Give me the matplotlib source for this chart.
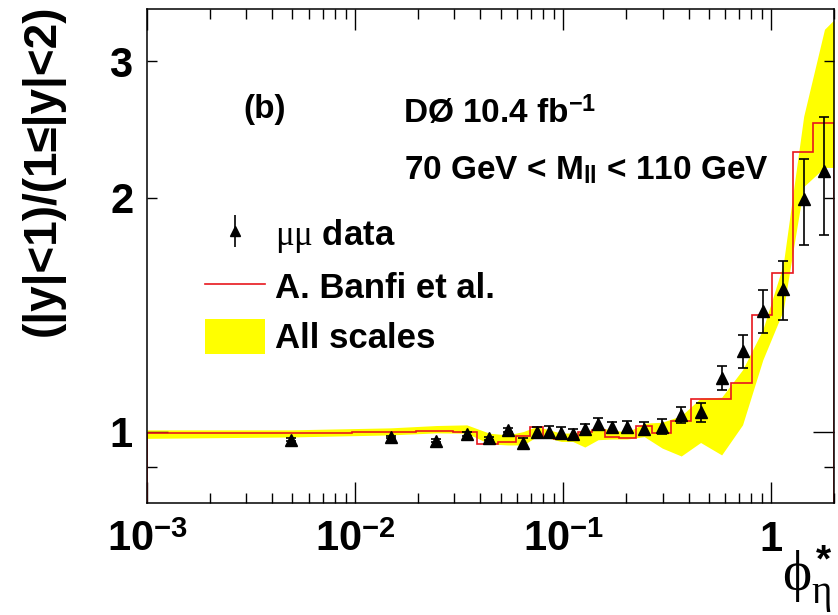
import matplotlib
matplotlib.use("Agg")
import matplotlib.pyplot as plt
from matplotlib.lines import Line2D
from matplotlib.patches import Patch
from matplotlib.ticker import FixedLocator, FixedFormatter, NullFormatter
from matplotlib.legend_handler import HandlerErrorbar

plt.rcParams['font.family'] = ['Liberation Sans', 'DejaVu Sans']
plt.rcParams['font.weight'] = 'normal'
plt.rcParams['mathtext.fontset'] = 'custom'
plt.rcParams['mathtext.rm'] = 'Liberation Sans:bold'
plt.rcParams['mathtext.bf'] = 'Liberation Sans:bold'
plt.rcParams['mathtext.it'] = 'Liberation Serif'

# ---- data ----
phi_data = [0.00491, 0.0148, 0.0246, 0.0344, 0.0442, 0.0541, 0.0643, 0.0745, 0.0857,
            0.0978, 0.111, 0.127, 0.147, 0.172, 0.203, 0.245, 0.299, 0.369, 0.457,
            0.577, 0.727, 0.910, 1.14, 1.43, 1.80]
ratio_data = [0.977, 0.985, 0.974, 0.994, 0.981, 1.006, 0.967, 0.999, 1.001, 0.998,
              0.994, 1.008, 1.024, 1.014, 1.014, 1.010, 1.016, 1.052, 1.060, 1.173,
              1.269, 1.432, 1.527, 1.991, 2.165]
ratio_err = [0.004, 0.004, 0.004, 0.005, 0.005, 0.006, 0.015, 0.015, 0.016, 0.016,
             0.016, 0.017, 0.017, 0.017, 0.018, 0.020, 0.023, 0.025, 0.030, 0.042,
             0.062, 0.090, 0.133, 0.250, 0.375]

banfi_edges = [0.001, 0.0097, 0.0197, 0.0294, 0.0387, 0.0488, 0.0595, 0.0692, 0.080,
               0.0906, 0.106, 0.118, 0.138, 0.159, 0.186, 0.223, 0.267, 0.331, 0.409,
               0.509, 0.641, 0.804, 1.01, 1.27, 1.58, 2.0]
banfi_vals = [0.998, 1.001, 1.004, 1.001, 0.965, 0.970, 0.989, 1.014, 0.984, 0.979,
              0.981, 1.001, 1.006, 0.986, 0.981, 1.018, 0.996, 1.034, 1.102, 1.102,
              1.155, 1.415, 1.601, 2.292, 2.495]

band_phi = [0.001, 0.00491, 0.0148, 0.0246, 0.0344, 0.0442, 0.0541, 0.0643, 0.0745,
            0.0857, 0.0978, 0.111, 0.127, 0.147, 0.172, 0.203, 0.245, 0.299, 0.369,
            0.457, 0.577, 0.727, 0.910, 1.14, 1.43, 1.80, 2.0]
band_hi = [1.006, 1.006, 1.012, 1.019, 1.021, 0.996, 0.991, 1.001, 1.016, 1.006, 0.996,
           0.997, 1.001, 1.013, 1.006, 0.999, 1.026, 1.029, 1.049, 1.105, 1.108, 1.202,
           1.354, 1.641, 2.547, 3.296, 3.39]
band_lo = [0.981, 0.985, 0.991, 0.997, 0.996, 0.965, 0.962, 0.962, 0.986, 0.981, 0.972,
           0.972, 0.956, 0.977, 0.979, 0.979, 0.986, 0.953, 0.931, 0.969, 0.934, 1.021,
           1.238, 1.432, 2.068, 2.189, 2.189]

xmajor = [1e-3, 1e-2, 1e-1, 1.0]
xmajor_labels = [r'$10^{-3}$', r'$10^{-2}$', r'$10^{-1}$', r'$1$']
yminor = [0.9, 2.0, 3.0]
yminor_labels = ['', r'$2$', r'$3$']

# ---- figure ----
fig = plt.figure(figsize=(8.38, 6.15), dpi=100)
ax = fig.add_axes([147/838, 112/615, 687/838, 494/615])

ax.fill_between(band_phi, band_lo, band_hi, color='#ffff00', lw=0, zorder=1)
ax.stairs(banfi_vals, banfi_edges, color='#e8161e', lw=1.2, zorder=2)
ax.errorbar(phi_data, ratio_data, yerr=ratio_err, fmt='^', color='black',
            ms=8.5, elinewidth=1.2, capsize=3.5, capthick=1.2, zorder=3)

ax.set_xscale('log')
ax.set_yscale('log')
ax.set_xlim(1e-3, 2.0)
ax.set_ylim(0.81, 3.5)

ax.xaxis.set_major_locator(FixedLocator(xmajor))
ax.xaxis.set_major_formatter(FixedFormatter(xmajor_labels))
xminor = [m * d for d in xmajor for m in range(2, 10) if m * d <= 2.0]
ax.xaxis.set_minor_locator(FixedLocator(xminor))
ax.xaxis.set_minor_formatter(NullFormatter())

ax.yaxis.set_major_locator(FixedLocator([1.0]))
ax.yaxis.set_major_formatter(FixedFormatter([r'$1$']))
ax.yaxis.set_minor_locator(FixedLocator(yminor))
ax.yaxis.set_minor_formatter(FixedFormatter(yminor_labels))

for s in ax.spines.values():
    s.set_linewidth(1.1)
ax.tick_params(which='both', direction='in', top=True, right=True, width=1.0)
ax.tick_params(which='major', length=15, labelsize=30)
ax.tick_params(which='minor', length=7, labelsize=30)
ax.tick_params(axis='x', which='both', pad=12)
ax.tick_params(axis='y', which='both', pad=10)

# y label
fig.text(43/838, 1 - 170/615, '(|y|<1)/(1≤|y|<2)', rotation=90, ha='center',
         va='center', fontsize=33, fontweight='bold')
# x label
fig.text(832/838, 1 - 580/615, r'$\phi_{\eta}^{*}$', ha='right', va='center',
         fontsize=40)

# annotations
ax.text(0.14, 0.796, '(b)', transform=ax.transAxes, fontsize=24, fontweight='bold',
        ha='left', va='center')
ax.text(0.372, 0.789, r'DØ 10.4 fb$^{-1}$', transform=ax.transAxes, fontsize=24,
        fontweight='bold', ha='left', va='center')
ax.text(0.374, 0.674, r'70 GeV < M$_{\rm ll}$ < 110 GeV', transform=ax.transAxes,
        fontsize=24, fontweight='bold', ha='left', va='center')

# legend
eb = ax.errorbar([], [], yerr=[], fmt='^', color='black', ms=7, elinewidth=1.2, capsize=0)
handles = [eb,
           Line2D([], [], color='#e8161e', lw=1.2),
           Patch(facecolor='#ffff00', edgecolor='none')]
labels = [r'$\mu\mu$ data', 'A. Banfi et al.', 'All scales']
leg = ax.legend(handles, labels, loc='upper left', bbox_to_anchor=(0.084, 0.58),
                frameon=False, prop={'size': 25, 'weight': 'bold'},
                handlelength=1.73, handleheight=1.15,
                handletextpad=0.29, labelspacing=0.4, borderpad=0, borderaxespad=0,
                handler_map={type(eb): HandlerErrorbar(yerr_size=0.45)})

fig.savefig('out.png', dpi=100)
